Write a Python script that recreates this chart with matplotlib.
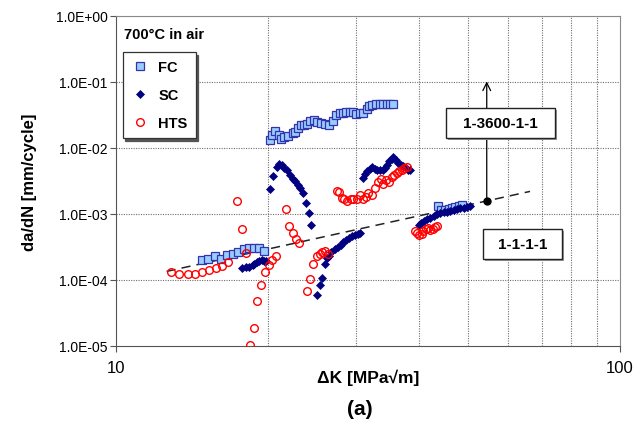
import matplotlib
matplotlib.use("Agg")
import matplotlib.pyplot as plt
from matplotlib.ticker import FixedLocator, NullFormatter, FuncFormatter
from matplotlib.patches import Rectangle

plt.rcParams['font.family'] = ['Liberation Sans', 'DejaVu Sans']

# ---------------- data ----------------
fc_dk = [14.78, 15.22, 15.71, 16.13, 16.63, 17.07, 17.47, 17.91, 18.32, 18.75, 19.18, 19.63,
         20.20, 20.36, 20.67, 21.09, 21.25, 21.58, 21.98, 22.42, 22.70, 22.95, 23.30, 23.65,
         23.94, 24.31, 24.69, 25.07, 25.46, 26.01, 26.41, 26.94, 27.35, 27.77, 28.21, 28.65,
         29.09, 29.55, 30.00, 30.45, 30.93, 31.41, 31.75, 32.25, 32.73, 33.39, 33.91, 34.44,
         34.96, 35.51,
         43.53, 44.20, 45.02, 45.72, 46.42, 47.14, 47.86, 48.60]
fc_rate = [1.98e-4, 2.10e-4, 2.31e-4, 2.08e-4, 2.42e-4, 2.50e-4, 2.66e-4, 2.98e-4, 3.05e-4,
           3.05e-4, 3.05e-4, 2.71e-4,
           0.01303, 0.01552, 0.01811, 0.01552, 0.01383, 0.01468, 0.01520, 0.01687, 0.01747,
           0.02009, 0.02199, 0.02254, 0.02334, 0.02566, 0.02685, 0.02477, 0.02400, 0.02334,
           0.02199, 0.02566, 0.03118, 0.03390, 0.03390, 0.03470, 0.03510, 0.03510, 0.03310,
           0.03430, 0.03430, 0.03940, 0.04270, 0.04420, 0.04580, 0.04580, 0.04690, 0.04580,
           0.04580, 0.04580,
           1.32e-3, 1.16e-3, 1.13e-3, 1.20e-3, 1.23e-3, 1.28e-3, 1.32e-3, 1.35e-3]

sc_dk = [17.82, 18.09, 18.37, 18.66, 18.79, 19.03, 19.23, 19.45, 19.68, 19.84,
         20.23, 20.51, 20.86, 21.09, 21.32, 21.58, 21.85, 22.18, 22.42, 22.70, 22.95, 23.22,
         23.55, 23.84, 24.14, 24.39,
         25.07, 25.34, 25.62, 26.01, 26.25, 26.46, 26.74, 27.15, 27.58, 27.91, 28.25, 28.65,
         29.05, 29.45, 29.85, 30.20, 30.45,
         30.93, 31.26, 31.55, 31.88, 32.24, 32.63, 32.99, 33.39, 33.81, 34.16, 34.55, 34.86,
         35.24, 35.51, 35.89, 36.34, 36.78, 37.19, 37.58, 38.05, 38.33,
         39.83, 40.31, 40.76, 41.38, 42.02, 42.67, 43.33, 43.99, 44.69, 45.38, 46.07, 46.80,
         47.51, 48.24, 48.97, 49.72, 50.49]
sc_rate = [1.535e-4, 1.55e-4, 1.59e-4, 1.66e-4, 1.75e-4, 1.87e-4, 1.96e-4, 2.01e-4, 1.96e-4,
           1.91e-4,
           2.36e-3, 3.77e-3, 5.15e-3, 5.78e-3, 5.45e-3, 5.03e-3, 4.58e-3, 3.94e-3, 3.43e-3,
           3.12e-3, 2.78e-3, 2.48e-3, 2.10e-3, 1.47e-3, 1.04e-3, 6.89e-4,
           5.99e-5, 8.28e-5, 1.08e-4, 1.77e-4, 2.15e-4, 2.31e-4, 2.66e-4, 2.91e-4, 3.16e-4,
           3.43e-4, 3.74e-4, 4.08e-4, 4.37e-4, 4.61e-4, 4.78e-4, 5.03e-4, 5.21e-4,
           3.55e-3, 4.08e-3, 4.42e-3, 4.86e-3, 5.08e-3, 4.86e-3, 4.69e-3, 4.58e-3, 4.64e-3,
           4.98e-3, 5.58e-3, 6.27e-3, 6.89e-3, 7.31e-3, 6.49e-3, 5.99e-3, 5.58e-3, 5.33e-3,
           4.98e-3, 4.69e-3, 4.58e-3,
           6.89e-4, 7.38e-4, 7.72e-4, 8.28e-4, 8.70e-4, 9.33e-4, 1.00e-3, 1.04e-3, 1.07e-3,
           1.09e-3, 1.12e-3, 1.16e-3, 1.20e-3, 1.23e-3, 1.25e-3, 1.28e-3, 1.32e-3]

hts_dk = [12.86, 13.35, 13.88, 14.35, 14.83, 15.32, 15.77, 16.23, 16.70, 18.09,
          17.41, 17.77, 18.45, 18.79, 19.07, 19.42, 19.72, 20.12, 20.42, 20.74,
          21.74, 22.07, 22.41, 22.76, 23.10,
          23.97, 24.26, 24.60, 25.01, 25.36, 25.68, 26.04, 26.37,
          27.41, 27.70, 28.04, 28.34, 28.77, 29.22, 29.57, 30.04, 30.49, 30.87, 31.29, 31.66,
          32.16, 32.65, 33.14, 33.56, 33.91, 34.33, 34.80, 35.24, 35.61, 36.06, 36.49, 36.90,
          37.28, 37.75,
          39.20, 39.61, 39.98, 40.42, 40.71, 41.22, 41.65, 41.98, 42.50, 42.95, 43.41]
hts_rate = [1.34e-4, 1.25e-4, 1.22e-4, 1.25e-4, 1.30e-4, 1.40e-4, 1.54e-4, 1.63e-4, 1.87e-4,
            2.59e-4,
            1.59e-3, 5.85e-4, 1.02e-5, 1.87e-5, 4.86e-5, 8.28e-5, 1.32e-4, 1.66e-4, 1.98e-4,
            2.28e-4,
            1.19e-3, 6.58e-4, 5.21e-4, 4.22e-4, 3.67e-4,
            6.89e-5, 1.04e-4, 1.75e-4, 2.31e-4, 2.48e-4, 2.66e-4, 2.71e-4, 2.50e-4,
            2.20e-3, 2.15e-3, 1.75e-3, 1.66e-3, 1.55e-3, 1.66e-3, 1.71e-3, 1.66e-3, 1.91e-3,
            1.71e-3, 1.81e-3, 2.10e-3, 1.91e-3, 2.48e-3, 3.05e-3, 3.34e-3, 2.88e-3, 3.23e-3,
            3.05e-3, 3.64e-3, 3.94e-3, 4.18e-3, 4.42e-3, 4.69e-3, 4.98e-3, 5.15e-3,
            5.52e-4, 5.21e-4, 4.86e-4, 5.03e-4, 5.45e-4, 5.85e-4, 6.14e-4, 5.65e-4, 5.98e-4,
            6.35e-4, 6.58e-4]

trend_dk = [12.6, 66.3]
trend_rate = [1.35e-4, 2.2e-3]
point_dk = 54.4
point_rate = 1.6e-3
arrow_top_rate = 0.102

series_names = ["FC", "SC", "HTS"]
y_ticks = [1e-5, 1e-4, 1e-3, 1e-2, 1e-1, 1e0]
x_ticks = [10, 100]
x_minor = [20, 30, 40, 50, 60, 70, 80, 90]
label_1 = "1-3600-1-1"
label_2 = "1-1-1-1"

# ---------------- figure ----------------
fig = plt.figure(figsize=(6.33, 4.35), dpi=100)
ax = fig.add_axes([116/633, 1-347/435, 504/633, 330/435])
ax.set_xscale('log')
ax.set_yscale('log')
ax.set_xlim(10, 100)
ax.set_ylim(1e-5, 1)

grid_kw = dict(color='#6e6e6e', linestyle=(0, (1, 1.2)), linewidth=0.8, zorder=0)
for xv in x_minor:
    ax.axvline(xv, **grid_kw)
for yv in y_ticks[1:-1]:
    ax.axhline(yv, **grid_kw)
ax.axhline(1.0, **grid_kw)

ax.xaxis.set_major_locator(FixedLocator(x_ticks))
ax.xaxis.set_minor_locator(FixedLocator(x_minor))
ax.xaxis.set_minor_formatter(NullFormatter())
ax.xaxis.set_major_formatter(FuncFormatter(lambda v, p: f"{v:g}"))
ax.yaxis.set_major_locator(FixedLocator(y_ticks))
ax.yaxis.set_minor_locator(FixedLocator([]))
ax.yaxis.set_major_formatter(FuncFormatter(lambda v, p: f"{v:.1E}"))
ax.tick_params(axis='x', which='major', labelsize=12, length=4, color='#555555', pad=6)
ax.tick_params(axis='x', which='minor', length=0)
ax.tick_params(axis='y', which='major', labelsize=10, length=4, color='#555555', pad=2)
for s in ['left', 'bottom']:
    ax.spines[s].set_color('#555555')
for s in ['top', 'right']:
    ax.spines[s].set_color('#8a8a8a')

ax.plot(trend_dk, trend_rate, color='#222222', lw=1.1, dashes=(6, 4), zorder=2)

h_fc, = ax.plot(fc_dk, fc_rate, ls='none', marker='s', ms=5.2, mfc='#99CCFF',
                mec='#3333AA', mew=0.9, zorder=3, label=series_names[0])
h_sc, = ax.plot(sc_dk, sc_rate, ls='none', marker='D', ms=4.2, mfc='#000080',
                mec='#000080', mew=0.5, zorder=4, label=series_names[1])
h_hts, = ax.plot(hts_dk, hts_rate, ls='none', marker='o', ms=5.5, mfc='none',
                 mec='#FF0000', mew=1.0, zorder=5, label=series_names[2])

# annotation: arrow and point
ax.annotate('', xy=(point_dk, arrow_top_rate), xytext=(point_dk, point_rate),
            arrowprops=dict(arrowstyle='->', color='black', lw=0.9,
                            shrinkA=0, shrinkB=0, mutation_scale=14), zorder=6)
ax.plot([point_dk], [point_rate], marker='o', ms=5, color='black', zorder=7)

for (x0, y0, x1, y1, txt) in [(0.6548, 0.630, 0.871, 0.720, label_1),
                               (0.7288, 0.2636, 0.8843, 0.3545, label_2)]:
    ax.add_patch(Rectangle((x0 + 0.004, y0 - 0.006), x1 - x0, y1 - y0,
                           transform=ax.transAxes, facecolor='#9a9a9a',
                           edgecolor='none', zorder=7))
    ax.add_patch(Rectangle((x0, y0), x1 - x0, y1 - y0, transform=ax.transAxes,
                           facecolor='white', edgecolor='#222222', lw=1.0, zorder=8))
    ax.text((x0 + x1) / 2, (y0 + y1) / 2, txt, transform=ax.transAxes,
            ha='center', va='center', fontsize=11, fontweight='bold', zorder=9)

ax.text(0.016, 0.945, "700\u00b0C in air", transform=ax.transAxes, ha='left',
        va='center', fontsize=10.5, fontweight='bold')

leg = ax.legend(handles=[h_fc, h_sc, h_hts], loc='upper left',
                bbox_to_anchor=(0.013, 0.89), borderaxespad=0,
                prop={'weight': 'bold', 'size': 10.5}, frameon=True, fancybox=False,
                shadow={'color': '#555555', 'alpha': 1.0}, edgecolor='#333333',
                labelspacing=0.95, handlelength=1.3, handletextpad=0.6,
                borderpad=0.55)
leg.get_frame().set_linewidth(0.9)

fig.text(30/633, 1-182/435, "da/dN [mm/cycle]", rotation=90, ha='center', va='center',
         fontsize=12, fontweight='bold')
fig.text(368/633, 1-378/435, "\u0394K [MPa\u221am]", ha='center', va='center',
         fontsize=12.5, fontweight='bold')
fig.text(360/633, 1-410/435, "(a)", ha='center', va='center', fontsize=15,
         fontweight='bold')

fig.savefig("out.png", dpi=100)
